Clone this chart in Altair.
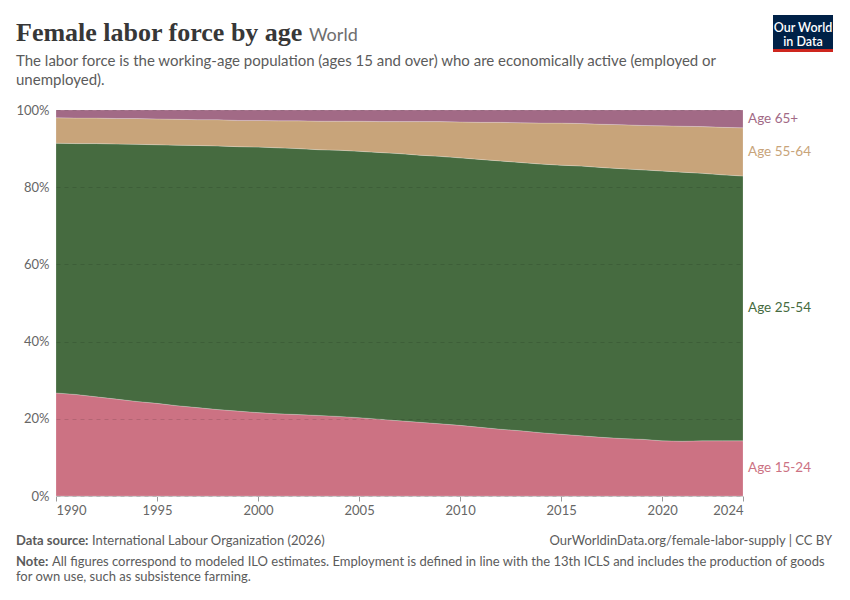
import altair as alt
import pandas as pd

years = list(range(1990, 2025))
groups = ["Age 15-24", "Age 25-54", "Age 55-64", "Age 65+"]

age_15_24 = [26.7, 26.3, 25.7, 25.1, 24.5, 24.0, 23.4, 22.9, 22.4, 22.0,
             21.6, 21.3, 21.1, 20.9, 20.6, 20.3, 19.9, 19.5, 19.1, 18.7,
             18.3, 17.8, 17.3, 16.9, 16.4, 16.0, 15.6, 15.2, 14.9, 14.7,
             14.3, 14.2, 14.3, 14.3, 14.3]
age_25_54 = [64.7, 65.0, 65.6, 66.1, 66.6, 67.0, 67.5, 67.9, 68.3, 68.5,
             68.8, 68.9, 68.9, 68.9, 68.9, 69.0, 69.1, 69.2, 69.2, 69.2,
             69.3, 69.4, 69.5, 69.5, 69.6, 69.7, 69.8, 69.9, 69.9, 69.8,
             69.9, 69.7, 69.3, 68.9, 68.6]
age_55_64 = [6.6, 6.6, 6.6, 6.6, 6.7, 6.7, 6.7, 6.7, 6.8, 6.8,
             6.9, 7.0, 7.2, 7.4, 7.5, 7.8, 8.0, 8.3, 8.7, 9.0,
             9.3, 9.6, 10.0, 10.3, 10.6, 10.9, 11.0, 11.2, 11.4, 11.5,
             11.7, 11.9, 12.1, 12.3, 12.5]
age_65_plus = [2.0, 2.1, 2.1, 2.2, 2.2, 2.3, 2.4, 2.5, 2.5, 2.7,
               2.7, 2.8, 2.8, 2.9, 2.9, 2.9, 3.0, 3.0, 3.0, 3.0,
               3.1, 3.2, 3.2, 3.3, 3.4, 3.4, 3.5, 3.7, 3.8, 4.0,
               4.1, 4.2, 4.3, 4.5, 4.6]

x_ticks = [1990, 1995, 2000, 2005, 2010, 2015, 2020, 2024]

area_colors = ["#cc7283", "#466b40", "#c8a47a", "#a26a86"]
label_colors = ["#c4506a", "#2b5a28", "#b58a58", "#985a80"]

series = [age_15_24, age_25_54, age_55_64, age_65_plus]
rows = []
for gi, (g, vals) in enumerate(zip(groups, series)):
    for y, v in zip(years, vals):
        rows.append({"year": y, "group": g, "value": v, "rank": gi})
df = pd.DataFrame(rows)

# label positions: middle of each band in the last year (as a share)
last = [s[-1] for s in series]
tot = sum(last)
cum = 0
lab_rows = []
for gi, g in enumerate(groups):
    mid = (cum + last[gi] / 2) / tot
    cum += last[gi]
    lab_rows.append({"year": years[-1], "group": g, "mid": mid})
lab_df = pd.DataFrame(lab_rows)

FONT = "Lato"
W, H = 687, 386

x_scale = alt.Scale(domain=[years[0], years[-1]], nice=False, zero=False)
color_scale = alt.Scale(domain=groups, range=area_colors)

area = alt.Chart(df).mark_area(stroke="white", strokeWidth=0.4, strokeOpacity=0.5).encode(
    x=alt.X("year:Q", scale=x_scale,
            axis=alt.Axis(values=x_ticks, format="d", title=None, grid=False,
                          labelFont=FONT, labelFontSize=13, labelColor="#666666",
                          labelFlush=True, tickColor="#999999", tickSize=5,
                          domainColor="#cccccc", labelPadding=3)),
    y=alt.Y("value:Q", stack="normalize",
            scale=alt.Scale(domain=[0, 1]),
            axis=alt.Axis(format=".0%", values=[0, 0.2, 0.4, 0.6, 0.8, 1.0], title=None,
                          domain=False, ticks=False, labelFont=FONT, labelFontSize=13,
                          labelColor="#666666", labelPadding=7, labelBaseline="middle",
                          gridColor="#000000", gridOpacity=0.12, gridDash=[4, 4],
                          zindex=1)),
    color=alt.Color("group:N", scale=color_scale, legend=None),
    order=alt.Order("rank:Q", sort="ascending"),
)

labels = alt.Chart(lab_df).mark_text(align="left", baseline="middle", dx=5,
                                     font=FONT, fontSize=13.5).encode(
    x=alt.X("year:Q", scale=x_scale),
    y=alt.Y("mid:Q"),
    text="group:N",
    color=alt.Color("group:N", scale=alt.Scale(domain=groups, range=label_colors), legend=None),
)

one = pd.DataFrame({"a": [0]})


def txt(s, x, y, size=13, color="#5b5b5b", weight="normal", font=FONT, align="left"):
    return alt.Chart(one).mark_text(text=s, align=align, baseline="alphabetic",
                                    font=font, fontSize=size, fontWeight=weight,
                                    color=color).encode(x=alt.value(x), y=alt.value(y))


ox, oy = 56, 110  # plot origin in page coordinates
title = txt("Female labor force by age", 16 - ox, 41 - oy, size=26, color="#373737",
            weight="bold", font="Liberation Serif")
world = txt("World", 309 - ox, 41 - oy, size=18, color="#6e6e6e")
sub1 = txt("The labor force is the working-age population (ages 15 and over) who are economically active (employed or",
           16 - ox, 66 - oy, size=15)
sub2 = txt("unemployed).", 16 - ox, 85 - oy, size=15)

src_b = txt("Data source:", 16 - ox, 545 - oy, weight="bold")
src = txt("International Labour Organization (2026)", 92 - ox, 545 - oy)
url = txt("OurWorldinData.org/female-labor-supply | CC BY", 832 - ox, 545 - oy, align="right")
note_b = txt("Note:", 16 - ox, 566 - oy, weight="bold")
note1 = txt("All figures correspond to modeled ILO estimates. Employment is defined in line with the 13th ICLS and includes the production of goods",
            52 - ox, 566 - oy)
note2 = txt("for own use, such as subsistence farming.", 16 - ox, 581 - oy)

logo = alt.Chart(one).mark_rect(color="#002147").encode(
    x=alt.value(773 - ox), x2=alt.value(833 - ox), y=alt.value(15 - oy), y2=alt.value(52 - oy))
logo_bar = alt.Chart(one).mark_rect(color="#ce261e").encode(
    x=alt.value(773 - ox), x2=alt.value(833 - ox), y=alt.value(49 - oy), y2=alt.value(52 - oy))
logo1 = txt("Our World", 803 - ox, 32 - oy, size=12.5, color="#ffffff", weight=600, align="center")
logo2 = txt("in Data", 803 - ox, 46 - oy, size=12.5, color="#ffffff", weight=600, align="center")

chart = alt.layer(
    area, labels, title, world, sub1, sub2, src_b, src, url, note_b, note1, note2,
    logo, logo_bar, logo1, logo2
).properties(
    width=W, height=H,
    autosize=alt.AutoSizeParams(type="none"),
    padding={"left": ox - 8, "top": oy - 8, "right": 834 - (ox - 8) - W - 0, "bottom": 584 - (oy - 8) - H},
    background="white",
).configure_view(stroke=None)

chart.save("out.html", embed_options={"renderer": "svg", "actions": False})
